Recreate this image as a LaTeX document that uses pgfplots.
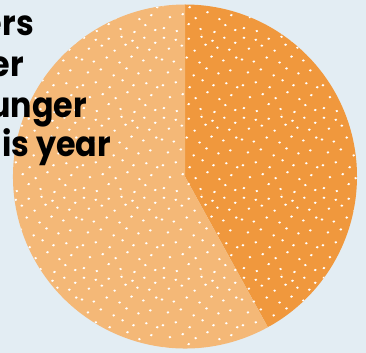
\documentclass[border=0pt]{standalone}
\usepackage{pgfplots}
\pgfplotsset{compat=1.18}
\usepackage{pgfplotstable}
\usepackage{fontspec}
\setmainfont{Poppins}[FakeStretch=0.91]
\usetikzlibrary{patterns}

\definecolor{bg}{HTML}{E3EDF3}
\definecolor{darkor}{HTML}{F0983D}
\definecolor{lightor}{HTML}{F4B877}

\pgfplotstableread{
label value
A 42
B 58
}\pietable

\newcommand\dotA[2]{\pgfpathellipse{\pgfpoint{#1bp}{#2bp}}{\pgfpoint{1.5bp}{0.3bp}}{\pgfpoint{-0.2bp}{1.2bp}}}
\newcommand\dotB[2]{\pgfpathellipse{\pgfpoint{#1bp}{#2bp}}{\pgfpoint{1.4bp}{-0.3bp}}{\pgfpoint{0.3bp}{1.2bp}}}
\pgfdeclarepatternformonly{speckle}{\pgfpointorigin}{\pgfpoint{80bp}{80bp}}{\pgfpoint{80bp}{80bp}}{%
  \dotA{4}{6}\dotB{17}{3}\dotA{29}{10}\dotB{41}{5}\dotA{55}{2}\dotB{66}{9}\dotA{76}{4}%
  \dotB{10}{17}\dotA{23}{20}\dotB{36}{16}\dotA{48}{22}\dotB{60}{15}\dotA{72}{19}%
  \dotA{3}{29}\dotB{16}{32}\dotA{30}{27}\dotB{43}{34}\dotA{54}{29}\dotB{67}{31}\dotA{78}{27}%
  \dotB{8}{42}\dotA{21}{45}\dotB{34}{39}\dotA{47}{46}\dotB{59}{41}\dotA{71}{44}%
  \dotA{2}{55}\dotB{14}{53}\dotA{27}{57}\dotB{40}{52}\dotA{52}{58}\dotB{64}{54}\dotA{77}{57}%
  \dotB{9}{66}\dotA{22}{69}\dotB{35}{64}\dotA{46}{70}\dotB{58}{67}\dotA{70}{65}%
  \dotA{4}{77}\dotB{16}{75}\dotA{29}{76}\dotB{42}{78}\dotA{53}{74}\dotB{65}{77}\dotA{76}{72}%
  \pgfusepath{fill}%
}

\begin{document}
\begin{tikzpicture}
\path[use as bounding box] (0,0) rectangle (366bp,353bp);
\clip (0,0) rectangle (366bp,353bp);
\fill[bg] (0,0) rectangle (366bp,353bp);
\begin{axis}[at={(0bp,0bp)}, anchor=south west, scale only axis,
  width=366bp, height=353bp, xmin=0, xmax=366, ymin=0, ymax=353,
  hide axis, clip=false]
  \pgfplotstablegetelem{0}{value}\of\pietable
  \pgfmathsetmacro\angA{90-3.6*\pgfplotsretval}
  \fill[darkor] (axis cs:185,176.5) -- ++(90:172bp) arc[start angle=90, end angle=\angA, radius=172bp] -- cycle;
  \fill[lightor] (axis cs:185,176.5) -- ++(\angA:172bp) arc[start angle=\angA, end angle=-270, radius=172bp] -- cycle;
  \fill[pattern=speckle, pattern color=white] (axis cs:185,176.5) circle[radius=172bp];
\end{axis}
\begin{scope}[every node/.style={font=\fontsize{35}{40}\selectfont\bfseries, text=black, inner sep=0pt}]
\node[anchor=base east] at (34bp,317bp) {ers};
\node[anchor=base east] at (24bp,276bp) {er};
\node[anchor=base east] at (87bp,235bp) {unger};
\node[anchor=base east] at (111bp,196bp) {is year};
\end{scope}
\end{tikzpicture}
\end{document}
